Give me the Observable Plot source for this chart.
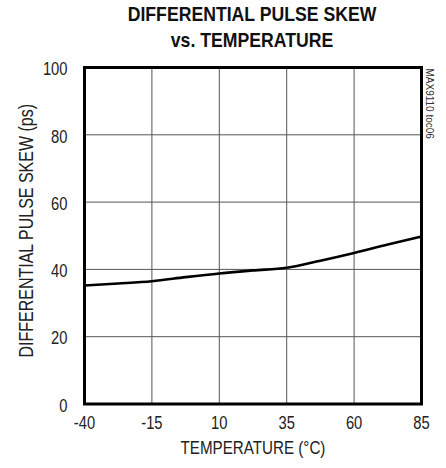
<!DOCTYPE html>
<html>
<head>
<meta charset="utf-8">
<script src="https://cdn.jsdelivr.net/npm/d3@7"></script>
<script src="https://cdn.jsdelivr.net/npm/@observablehq/plot@0.6"></script>
<style>
  html, body { margin: 0; padding: 0; background: #fff; }
  #wrap { width: 446px; height: 468px; position: relative; }
  #title {
    position: absolute; left: 58px; right: 0; top: 1px;
    text-align: center;
    font-family: "Liberation Sans", Arial, sans-serif;
    font-weight: bold; font-size: 21px; line-height: 25.6px; color: #111;
    transform: scaleX(0.84); transform-origin: 50% 50%;
  }
  #chart { position: absolute; left: 0; top: 55px; }
</style>
</head>
<body>
<div id="wrap">
  <div id="title">DIFFERENTIAL PULSE SKEW<br>vs. TEMPERATURE</div>
  <div id="chart"></div>
</div>
<script>
const temperature = [-40, -27.5, -15, -2.5, 10, 22.5, 35, 47.5, 60, 72.5, 85];
const skew = [35.2, 35.8, 36.5, 37.7, 38.8, 39.7, 40.5, 42.6, 44.9, 47.4, 49.8];
const xTicks = [-40, -15, 10, 35, 60, 85];
const yTicks = [0, 20, 40, 60, 80, 100];
const xLabel = "TEMPERATURE (°C)";
const yLabel = "DIFFERENTIAL PULSE SKEW (ps)";
const noteText = "MAX9110 toc06";

const data = temperature.map((t, i) => ({t, s: skew[i]}));
const font = '"Liberation Sans", Arial, sans-serif';

const chart = Plot.plot({
  width: 446,
  height: 413,
  marginLeft: 84,
  marginRight: 25,
  marginTop: 12,
  marginBottom: 64.5,
  style: {fontFamily: font, fontSize: "18px", color: "#222", background: "#fff"},
  x: {domain: [-40, 85], ticks: xTicks},
  y: {domain: [0, 100], ticks: yTicks},
  marks: [
    Plot.gridX(xTicks, {stroke: "#555", strokeOpacity: 1, strokeWidth: 1}),
    Plot.gridY(yTicks, {stroke: "#555", strokeOpacity: 1, strokeWidth: 1}),
    Plot.axisX(xTicks, {tickSize: 0, tickPadding: 12, label: null, fontSize: 18, tickFormat: d => String(d)}),
    Plot.axisY(yTicks, {tickSize: 0, tickPadding: 17, dy: 2, label: null, fontSize: 18, tickFormat: d => String(d)}),
    Plot.line(data, {x: "t", y: "s", curve: "monotone-x", stroke: "#000", strokeWidth: 2.6}),
    Plot.frame({stroke: "#000", strokeWidth: 3}),
    Plot.text([xLabel], {frameAnchor: "bottom", dy: 49.5, fontSize: 18.5, fill: "#222"}),
    Plot.text([yLabel], {frameAnchor: "left", dx: -58, dy: -5, rotate: -90, textAnchor: "middle", fontSize: 19.5, fill: "#222"}),
    Plot.text([noteText], {frameAnchor: "top-right", dx: 12, dy: 1, rotate: 90, textAnchor: "start", fontSize: 10, fill: "#333"})
  ]
});
document.getElementById("chart").appendChild(chart);

// Narrow the lettering (the reference uses a condensed face)
function condense() {
  chart.querySelectorAll("text").forEach(t => {
    if (t.textContent === noteText) return;
    t.removeAttribute("textLength");
    const len = t.getComputedTextLength();
    if (len > 0) {
      t.setAttribute("textLength", (len * 0.82).toFixed(1));
      t.setAttribute("lengthAdjust", "spacingAndGlyphs");
    }
  });
}
condense();
if (document.fonts && document.fonts.ready) document.fonts.ready.then(condense);
</script>
</body>
</html>
